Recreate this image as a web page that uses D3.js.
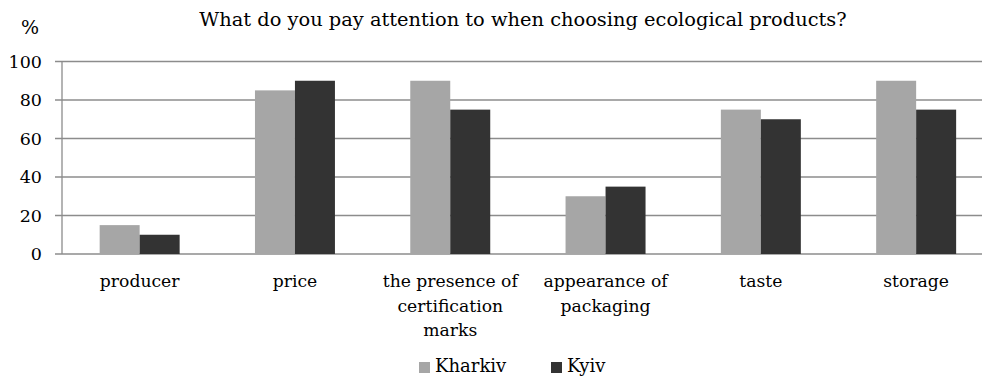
<!DOCTYPE html>
<html><head><meta charset="utf-8">
<script src="https://cdn.jsdelivr.net/npm/d3@7"></script>
<style>body{margin:0;background:#fff}svg{display:block;font-family:"DejaVu Serif",serif}</style>
</head><body>
<svg id="c" width="982" height="380"></svg>
<script>
const categories = [["producer"],["price"],["the presence of","certification","marks"],["appearance of","packaging"],["taste"],["storage"]];
const seriesNames = ["Kharkiv","Kyiv"];
const kharkiv = [15,85,90,30,75,90];
const kyiv = [10,90,75,35,70,75];
const yTicks = [0,20,40,60,80,100];
const colors = ["#a6a6a6","#333333"];
const title = "What do you pay attention to when choosing ecological products?";

(function(){
const svg = d3.select("#c");
const plotLeft = 62, stepW = 155.3, plotTop = 61.5, plotBottom = 254;
const x = d3.scaleBand().domain(d3.range(categories.length)).range([plotLeft, plotLeft + stepW*categories.length]).paddingInner(0.485).paddingOuter(0.2425);
const y = d3.scaleLinear().domain([0,100]).range([plotBottom, plotTop]);
const xs = d3.scaleBand().domain([0,1]).range([0, x.bandwidth()]);

svg.append("g").selectAll("line").data(yTicks).join("line")
  .attr("x1", 55).attr("x2", 982).attr("y1", d=>y(d)).attr("y2", d=>y(d))
  .attr("stroke", "#8c8c8c").attr("stroke-width", 1.3);

svg.append("g").selectAll("text").data(yTicks).join("text")
  .attr("x", 42).attr("y", d=>y(d)+6.3).attr("text-anchor","end")
  .attr("font-size", 17.5).attr("fill","#000").text(d=>d);

const data = [kharkiv, kyiv];
data.forEach((vals, si) => {
  svg.append("g").selectAll("rect").data(vals).join("rect")
    .attr("x", (d,i)=>x(i)+xs(si)).attr("width", xs.bandwidth())
    .attr("y", d=>y(d)).attr("height", d=>y(0)-y(d))
    .attr("fill", colors[si]);
});

svg.append("line").attr("x1",62).attr("x2",62).attr("y1",y(100)).attr("y2",y(0))
  .attr("stroke","#8c8c8c").attr("stroke-width",1.3);

const lab = svg.append("g").selectAll("text").data(categories).join("text")
  .attr("text-anchor","middle").attr("font-size",17.2).attr("fill","#000")
  .attr("transform",(d,i)=>`translate(${x(i)+x.bandwidth()/2},287)`);
lab.selectAll("tspan").data(d=>d).join("tspan").attr("x",0).attr("dy",(d,i)=>i?24.5:0).text(d=>d);

svg.append("text").attr("x",523).attr("y",26).attr("text-anchor","middle")
  .attr("font-size",19.4).attr("fill","#000").text(title);
svg.append("text").attr("x",21).attr("y",34).attr("font-size",19).attr("fill","#000").text("%");

const legX = [419, 551];
seriesNames.forEach((n,i)=>{
  svg.append("rect").attr("x",legX[i]).attr("y",362).attr("width",11).attr("height",11).attr("fill",colors[i]);
  svg.append("text").attr("x",legX[i]+16).attr("y",372).attr("font-size",18).attr("fill","#000").text(n);
});
})();
</script>
</body></html>
